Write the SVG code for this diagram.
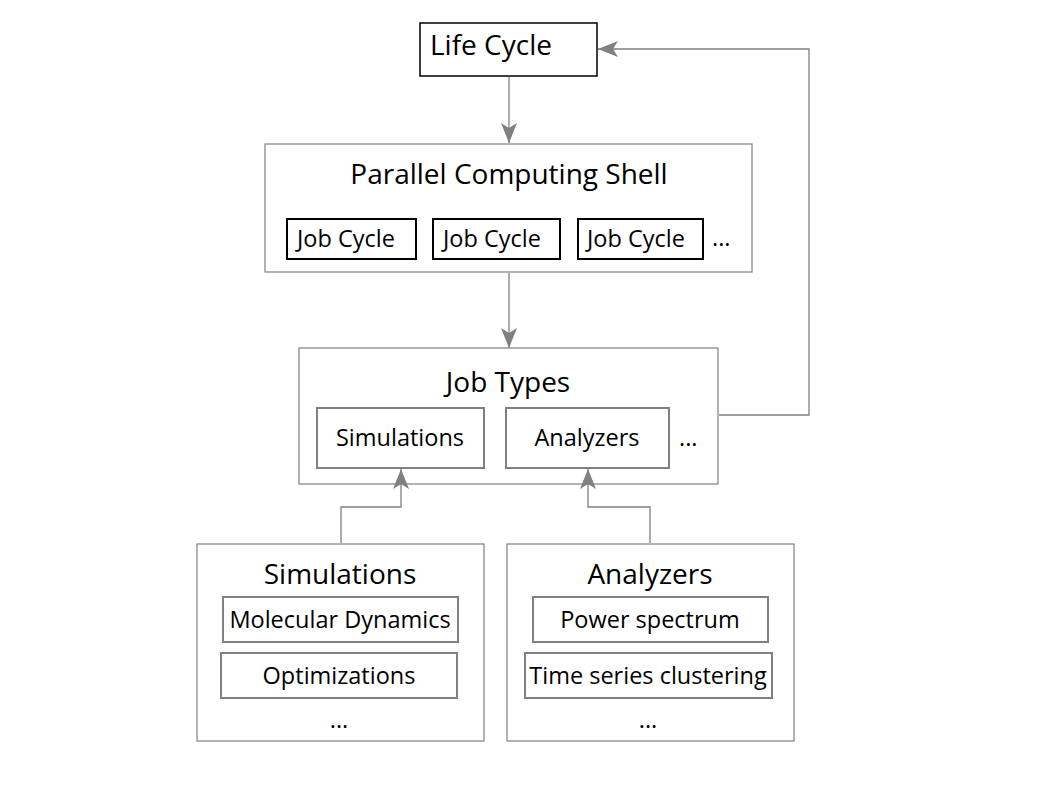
<svg xmlns="http://www.w3.org/2000/svg" width="1058" height="794" viewBox="0 0 1058 794">
<defs>
<marker id="ah" markerWidth="20" markerHeight="16" refX="20" refY="8" orient="auto" markerUnits="userSpaceOnUse" viewBox="0 0 20 16">
<path d="M0,0 L20,8 L0,16 L5,8 Z" fill="#808080"/>
</marker>
<style>
.t{font-family:"Open Sans","Noto Sans",sans-serif;fill:#000}
.big{font-size:28px}
.sm{font-size:23.5px}
.outer{fill:#fff;stroke:#808080;stroke-width:1.2}
.inb{fill:#fff;stroke:#000;stroke-width:2}
.ing{fill:#fff;stroke:#808080;stroke-width:2}
.c{fill:none;stroke:#808080;stroke-width:1.3}
</style>
</defs>
<rect width="1058" height="794" fill="#fff"/>
<g id="lifecycle">
<rect x="420" y="23" width="177" height="53" fill="#fff" stroke="#000" stroke-width="1.5"/>
<text class="t big" x="430" y="55">Life Cycle</text>
</g>
<g id="shell">
<rect class="outer" x="265" y="144" width="487" height="128"/>
<text class="t big" x="509" y="184" text-anchor="middle">Parallel Computing Shell</text>
<g id="jc1"><rect class="inb" x="287" y="219" width="129" height="40"/><text class="t sm" x="297" y="247">Job Cycle</text></g>
<g id="jc2"><rect class="inb" x="433" y="219" width="127" height="40"/><text class="t sm" x="443" y="247">Job Cycle</text></g>
<g id="jc3"><rect class="inb" x="578" y="219" width="125" height="40"/><text class="t sm" x="587" y="247">Job Cycle</text></g>
<text class="t sm" x="712" y="246">...</text>
</g>
<g id="jobtypes">
<rect class="outer" x="299" y="348" width="419" height="136"/>
<text class="t big" x="508" y="392" text-anchor="middle">Job Types</text>
<g id="jt-sim"><rect class="ing" x="317" y="408" width="167" height="60"/><text class="t sm" x="400" y="446" text-anchor="middle">Simulations</text></g>
<g id="jt-ana"><rect class="ing" x="506" y="408" width="163" height="60"/><text class="t sm" x="587" y="446" text-anchor="middle">Analyzers</text></g>
<text class="t sm" x="679" y="446">...</text>
</g>
<g id="simulations">
<rect class="outer" x="197" y="544" width="287" height="197"/>
<text class="t big" x="340" y="584" text-anchor="middle">Simulations</text>
<g id="md"><rect class="ing" x="223" y="597" width="235" height="45"/><text class="t sm" x="340" y="628" text-anchor="middle">Molecular Dynamics</text></g>
<g id="opt"><rect class="ing" x="221" y="653" width="236" height="45"/><text class="t sm" x="339" y="684" text-anchor="middle">Optimizations</text></g>
<text class="t sm" x="339" y="728" text-anchor="middle">...</text>
</g>
<g id="analyzers">
<rect class="outer" x="507" y="544" width="287" height="197"/>
<text class="t big" x="650" y="584" text-anchor="middle">Analyzers</text>
<g id="ps"><rect class="ing" x="533" y="597" width="235" height="45"/><text class="t sm" x="650" y="628" text-anchor="middle">Power spectrum</text></g>
<g id="tsc"><rect class="ing" x="525" y="653" width="247" height="45"/><text class="t sm" x="648" y="684" text-anchor="middle">Time series clustering</text></g>
<text class="t sm" x="648" y="728" text-anchor="middle">...</text>
</g>
<g id="connectors">
<path class="c" d="M509,77 V143" marker-end="url(#ah)"/>
<path class="c" d="M509,273 V348" marker-end="url(#ah)"/>
<path class="c" d="M719,415 H809 V49 H598" marker-end="url(#ah)"/>
<path class="c" d="M341,543 V507 H401 V469" marker-end="url(#ah)"/>
<path class="c" d="M650,543 V507 H588 V469" marker-end="url(#ah)"/>
</g>
</svg>
